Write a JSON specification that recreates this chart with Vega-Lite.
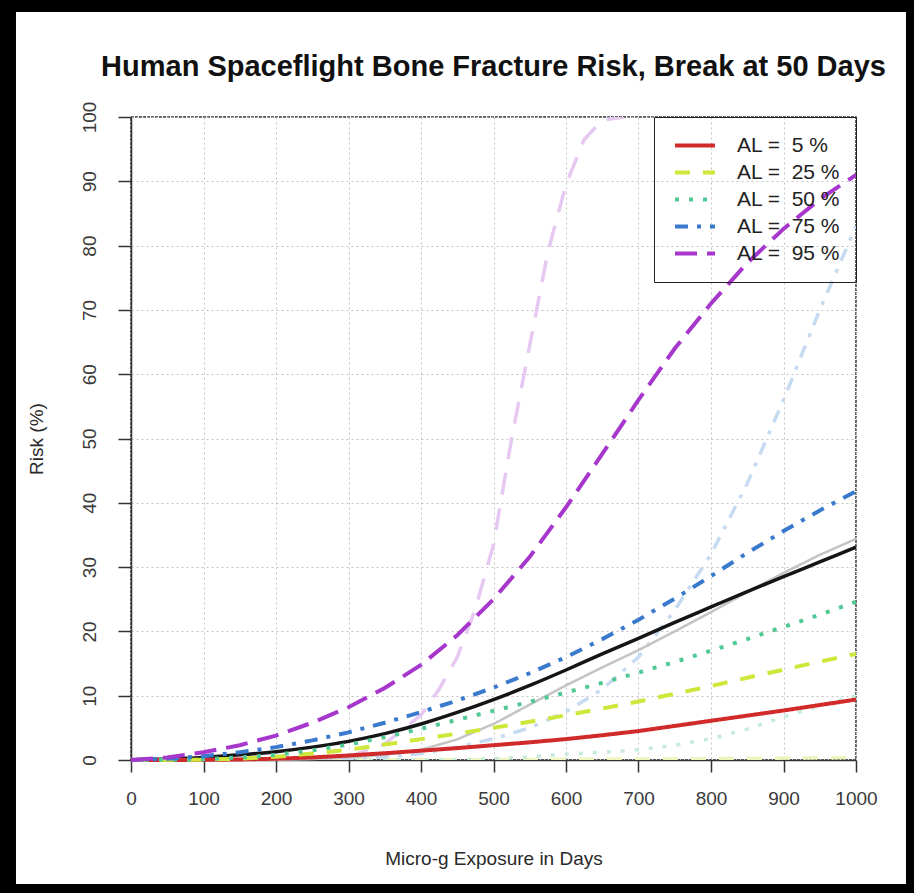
{
  "$schema": "https://vega.github.io/schema/vega-lite/v6.json",
  "width": 725,
  "height": 643,
  "autosize": {"type": "none"},
  "padding": {"left": 131, "top": 117, "right": 58, "bottom": 133},
  "background": "white",
  "title": {
    "text": "Human Spaceflight Bone Fracture Risk, Break at 50 Days",
    "font": "Liberation Sans",
    "fontSize": 29,
    "fontWeight": "bold",
    "color": "#111111",
    "anchor": "middle",
    "frame": "group",
    "baseline": "alphabetic",
    "offset": -117
  },
  "config": {
    "view": {"stroke": "#333333", "strokeWidth": 1.5, "strokeDash": [3, 1]},
    "font": "Liberation Sans",
    "axis": {
      "grid": true,
      "gridColor": "#C4C4C4",
      "gridDash": [2, 3],
      "gridWidth": 1,
      "domainColor": "#333333",
      "domainWidth": 1.5,
      "tickColor": "#333333",
      "tickWidth": 1.5,
      "labelColor": "#3A3A3A",
      "labelFont": "Liberation Sans",
      "labelFontSize": 19,
      "titleFont": "Liberation Sans",
      "titleFontSize": 19,
      "titleFontWeight": "normal",
      "titleColor": "#2A2A2A",
      "labelFlush": false,
      "format": "d"
    },
    "axisX": {"tickSize": 12, "labelPadding": 17, "titlePadding": 41},
    "axisY": {"tickSize": 13, "labelAngle": 270, "labelAlign": "center", "labelBaseline": "bottom", "labelPadding": 19, "titlePadding": 34},
    "legend": {"labelFont": "Liberation Sans"}
  },
  "datasets": {
    "curves": [
      {"day": 0, "risk": 0, "series": "AL = 5 %", "scenario": "break"},
      {"day": 100, "risk": 0.02, "series": "AL = 5 %", "scenario": "break"},
      {"day": 150, "risk": 0.08, "series": "AL = 5 %", "scenario": "break"},
      {"day": 200, "risk": 0.2, "series": "AL = 5 %", "scenario": "break"},
      {"day": 250, "risk": 0.4, "series": "AL = 5 %", "scenario": "break"},
      {"day": 300, "risk": 0.7, "series": "AL = 5 %", "scenario": "break"},
      {"day": 350, "risk": 1.05, "series": "AL = 5 %", "scenario": "break"},
      {"day": 400, "risk": 1.45, "series": "AL = 5 %", "scenario": "break"},
      {"day": 450, "risk": 1.85, "series": "AL = 5 %", "scenario": "break"},
      {"day": 500, "risk": 2.3, "series": "AL = 5 %", "scenario": "break"},
      {"day": 550, "risk": 2.75, "series": "AL = 5 %", "scenario": "break"},
      {"day": 600, "risk": 3.25, "series": "AL = 5 %", "scenario": "break"},
      {"day": 650, "risk": 3.85, "series": "AL = 5 %", "scenario": "break"},
      {"day": 700, "risk": 4.5, "series": "AL = 5 %", "scenario": "break"},
      {"day": 750, "risk": 5.3, "series": "AL = 5 %", "scenario": "break"},
      {"day": 800, "risk": 6.1, "series": "AL = 5 %", "scenario": "break"},
      {"day": 850, "risk": 6.9, "series": "AL = 5 %", "scenario": "break"},
      {"day": 900, "risk": 7.7, "series": "AL = 5 %", "scenario": "break"},
      {"day": 950, "risk": 8.55, "series": "AL = 5 %", "scenario": "break"},
      {"day": 1000, "risk": 9.4, "series": "AL = 5 %", "scenario": "break"},

      {"day": 0, "risk": 0, "series": "AL = 25 %", "scenario": "break"},
      {"day": 100, "risk": 0.05, "series": "AL = 25 %", "scenario": "break"},
      {"day": 150, "risk": 0.2, "series": "AL = 25 %", "scenario": "break"},
      {"day": 200, "risk": 0.5, "series": "AL = 25 %", "scenario": "break"},
      {"day": 250, "risk": 1.0, "series": "AL = 25 %", "scenario": "break"},
      {"day": 300, "risk": 1.6, "series": "AL = 25 %", "scenario": "break"},
      {"day": 350, "risk": 2.4, "series": "AL = 25 %", "scenario": "break"},
      {"day": 400, "risk": 3.25, "series": "AL = 25 %", "scenario": "break"},
      {"day": 450, "risk": 4.1, "series": "AL = 25 %", "scenario": "break"},
      {"day": 500, "risk": 5.0, "series": "AL = 25 %", "scenario": "break"},
      {"day": 550, "risk": 5.95, "series": "AL = 25 %", "scenario": "break"},
      {"day": 600, "risk": 6.95, "series": "AL = 25 %", "scenario": "break"},
      {"day": 650, "risk": 8.0, "series": "AL = 25 %", "scenario": "break"},
      {"day": 700, "risk": 9.1, "series": "AL = 25 %", "scenario": "break"},
      {"day": 750, "risk": 10.3, "series": "AL = 25 %", "scenario": "break"},
      {"day": 800, "risk": 11.5, "series": "AL = 25 %", "scenario": "break"},
      {"day": 850, "risk": 12.8, "series": "AL = 25 %", "scenario": "break"},
      {"day": 900, "risk": 14.05, "series": "AL = 25 %", "scenario": "break"},
      {"day": 950, "risk": 15.3, "series": "AL = 25 %", "scenario": "break"},
      {"day": 1000, "risk": 16.5, "series": "AL = 25 %", "scenario": "break"},

      {"day": 0, "risk": 0, "series": "AL = 50 %", "scenario": "break"},
      {"day": 100, "risk": 0.1, "series": "AL = 50 %", "scenario": "break"},
      {"day": 150, "risk": 0.4, "series": "AL = 50 %", "scenario": "break"},
      {"day": 200, "risk": 0.8, "series": "AL = 50 %", "scenario": "break"},
      {"day": 250, "risk": 1.5, "series": "AL = 50 %", "scenario": "break"},
      {"day": 300, "risk": 2.4, "series": "AL = 50 %", "scenario": "break"},
      {"day": 350, "risk": 3.55, "series": "AL = 50 %", "scenario": "break"},
      {"day": 400, "risk": 4.85, "series": "AL = 50 %", "scenario": "break"},
      {"day": 450, "risk": 6.25, "series": "AL = 50 %", "scenario": "break"},
      {"day": 500, "risk": 7.65, "series": "AL = 50 %", "scenario": "break"},
      {"day": 550, "risk": 9.05, "series": "AL = 50 %", "scenario": "break"},
      {"day": 600, "risk": 10.5, "series": "AL = 50 %", "scenario": "break"},
      {"day": 650, "risk": 12.0, "series": "AL = 50 %", "scenario": "break"},
      {"day": 700, "risk": 13.6, "series": "AL = 50 %", "scenario": "break"},
      {"day": 750, "risk": 15.25, "series": "AL = 50 %", "scenario": "break"},
      {"day": 800, "risk": 17.0, "series": "AL = 50 %", "scenario": "break"},
      {"day": 850, "risk": 18.8, "series": "AL = 50 %", "scenario": "break"},
      {"day": 900, "risk": 20.7, "series": "AL = 50 %", "scenario": "break"},
      {"day": 950, "risk": 22.6, "series": "AL = 50 %", "scenario": "break"},
      {"day": 1000, "risk": 24.6, "series": "AL = 50 %", "scenario": "break"},

      {"day": 0, "risk": 0, "series": "AL = 75 %", "scenario": "break"},
      {"day": 50, "risk": 0.2, "series": "AL = 75 %", "scenario": "break"},
      {"day": 100, "risk": 0.6, "series": "AL = 75 %", "scenario": "break"},
      {"day": 150, "risk": 1.2, "series": "AL = 75 %", "scenario": "break"},
      {"day": 200, "risk": 2.0, "series": "AL = 75 %", "scenario": "break"},
      {"day": 250, "risk": 3.05, "series": "AL = 75 %", "scenario": "break"},
      {"day": 300, "risk": 4.3, "series": "AL = 75 %", "scenario": "break"},
      {"day": 350, "risk": 5.8, "series": "AL = 75 %", "scenario": "break"},
      {"day": 400, "risk": 7.45, "series": "AL = 75 %", "scenario": "break"},
      {"day": 450, "risk": 9.25, "series": "AL = 75 %", "scenario": "break"},
      {"day": 500, "risk": 11.25, "series": "AL = 75 %", "scenario": "break"},
      {"day": 550, "risk": 13.5, "series": "AL = 75 %", "scenario": "break"},
      {"day": 600, "risk": 16.0, "series": "AL = 75 %", "scenario": "break"},
      {"day": 650, "risk": 18.8, "series": "AL = 75 %", "scenario": "break"},
      {"day": 700, "risk": 21.8, "series": "AL = 75 %", "scenario": "break"},
      {"day": 750, "risk": 25.1, "series": "AL = 75 %", "scenario": "break"},
      {"day": 800, "risk": 28.6, "series": "AL = 75 %", "scenario": "break"},
      {"day": 850, "risk": 32.2, "series": "AL = 75 %", "scenario": "break"},
      {"day": 900, "risk": 35.6, "series": "AL = 75 %", "scenario": "break"},
      {"day": 950, "risk": 38.8, "series": "AL = 75 %", "scenario": "break"},
      {"day": 1000, "risk": 41.8, "series": "AL = 75 %", "scenario": "break"},

      {"day": 0, "risk": 0, "series": "AL = 95 %", "scenario": "break"},
      {"day": 50, "risk": 0.4, "series": "AL = 95 %", "scenario": "break"},
      {"day": 100, "risk": 1.2, "series": "AL = 95 %", "scenario": "break"},
      {"day": 150, "risk": 2.3, "series": "AL = 95 %", "scenario": "break"},
      {"day": 200, "risk": 3.8, "series": "AL = 95 %", "scenario": "break"},
      {"day": 250, "risk": 5.8, "series": "AL = 95 %", "scenario": "break"},
      {"day": 300, "risk": 8.2, "series": "AL = 95 %", "scenario": "break"},
      {"day": 350, "risk": 11.2, "series": "AL = 95 %", "scenario": "break"},
      {"day": 400, "risk": 14.8, "series": "AL = 95 %", "scenario": "break"},
      {"day": 450, "risk": 19.4, "series": "AL = 95 %", "scenario": "break"},
      {"day": 500, "risk": 25.0, "series": "AL = 95 %", "scenario": "break"},
      {"day": 550, "risk": 31.6, "series": "AL = 95 %", "scenario": "break"},
      {"day": 600, "risk": 39.3, "series": "AL = 95 %", "scenario": "break"},
      {"day": 650, "risk": 47.6, "series": "AL = 95 %", "scenario": "break"},
      {"day": 700, "risk": 56.0, "series": "AL = 95 %", "scenario": "break"},
      {"day": 750, "risk": 64.0, "series": "AL = 95 %", "scenario": "break"},
      {"day": 800, "risk": 71.0, "series": "AL = 95 %", "scenario": "break"},
      {"day": 850, "risk": 77.3, "series": "AL = 95 %", "scenario": "break"},
      {"day": 900, "risk": 82.6, "series": "AL = 95 %", "scenario": "break"},
      {"day": 950, "risk": 87.2, "series": "AL = 95 %", "scenario": "break"},
      {"day": 1000, "risk": 91.0, "series": "AL = 95 %", "scenario": "break"},

      {"day": 0, "risk": 0, "series": "Overall", "scenario": "break"},
      {"day": 50, "risk": 0.15, "series": "Overall", "scenario": "break"},
      {"day": 100, "risk": 0.4, "series": "Overall", "scenario": "break"},
      {"day": 150, "risk": 0.8, "series": "Overall", "scenario": "break"},
      {"day": 200, "risk": 1.3, "series": "Overall", "scenario": "break"},
      {"day": 250, "risk": 2.0, "series": "Overall", "scenario": "break"},
      {"day": 300, "risk": 2.9, "series": "Overall", "scenario": "break"},
      {"day": 350, "risk": 4.1, "series": "Overall", "scenario": "break"},
      {"day": 400, "risk": 5.6, "series": "Overall", "scenario": "break"},
      {"day": 450, "risk": 7.4, "series": "Overall", "scenario": "break"},
      {"day": 500, "risk": 9.4, "series": "Overall", "scenario": "break"},
      {"day": 550, "risk": 11.6, "series": "Overall", "scenario": "break"},
      {"day": 600, "risk": 14.0, "series": "Overall", "scenario": "break"},
      {"day": 650, "risk": 16.5, "series": "Overall", "scenario": "break"},
      {"day": 700, "risk": 18.9, "series": "Overall", "scenario": "break"},
      {"day": 750, "risk": 21.4, "series": "Overall", "scenario": "break"},
      {"day": 800, "risk": 23.8, "series": "Overall", "scenario": "break"},
      {"day": 850, "risk": 26.2, "series": "Overall", "scenario": "break"},
      {"day": 900, "risk": 28.5, "series": "Overall", "scenario": "break"},
      {"day": 950, "risk": 30.8, "series": "Overall", "scenario": "break"},
      {"day": 1000, "risk": 33.1, "series": "Overall", "scenario": "break"},

      {"day": 0, "risk": 0, "series": "Overall", "scenario": "no break"},
      {"day": 200, "risk": 0.05, "series": "Overall", "scenario": "no break"},
      {"day": 250, "risk": 0.15, "series": "Overall", "scenario": "no break"},
      {"day": 300, "risk": 0.4, "series": "Overall", "scenario": "no break"},
      {"day": 350, "risk": 0.8, "series": "Overall", "scenario": "no break"},
      {"day": 400, "risk": 1.6, "series": "Overall", "scenario": "no break"},
      {"day": 450, "risk": 3.2, "series": "Overall", "scenario": "no break"},
      {"day": 500, "risk": 5.6, "series": "Overall", "scenario": "no break"},
      {"day": 550, "risk": 8.6, "series": "Overall", "scenario": "no break"},
      {"day": 600, "risk": 11.6, "series": "Overall", "scenario": "no break"},
      {"day": 650, "risk": 14.4, "series": "Overall", "scenario": "no break"},
      {"day": 700, "risk": 17.1, "series": "Overall", "scenario": "no break"},
      {"day": 750, "risk": 20.0, "series": "Overall", "scenario": "no break"},
      {"day": 800, "risk": 23.0, "series": "Overall", "scenario": "no break"},
      {"day": 850, "risk": 26.1, "series": "Overall", "scenario": "no break"},
      {"day": 900, "risk": 29.1, "series": "Overall", "scenario": "no break"},
      {"day": 950, "risk": 31.9, "series": "Overall", "scenario": "no break"},
      {"day": 1000, "risk": 34.4, "series": "Overall", "scenario": "no break"},

      {"day": 0, "risk": 0, "series": "AL = 25 %", "scenario": "no break"},
      {"day": 500, "risk": 0.05, "series": "AL = 25 %", "scenario": "no break"},
      {"day": 700, "risk": 0.15, "series": "AL = 25 %", "scenario": "no break"},
      {"day": 850, "risk": 0.25, "series": "AL = 25 %", "scenario": "no break"},
      {"day": 1000, "risk": 0.4, "series": "AL = 25 %", "scenario": "no break"},

      {"day": 0, "risk": 0, "series": "AL = 50 %", "scenario": "no break"},
      {"day": 450, "risk": 0.05, "series": "AL = 50 %", "scenario": "no break"},
      {"day": 500, "risk": 0.2, "series": "AL = 50 %", "scenario": "no break"},
      {"day": 550, "risk": 0.5, "series": "AL = 50 %", "scenario": "no break"},
      {"day": 600, "risk": 0.9, "series": "AL = 50 %", "scenario": "no break"},
      {"day": 650, "risk": 1.2, "series": "AL = 50 %", "scenario": "no break"},
      {"day": 700, "risk": 1.6, "series": "AL = 50 %", "scenario": "no break"},
      {"day": 750, "risk": 2.3, "series": "AL = 50 %", "scenario": "no break"},
      {"day": 800, "risk": 3.3, "series": "AL = 50 %", "scenario": "no break"},
      {"day": 850, "risk": 4.8, "series": "AL = 50 %", "scenario": "no break"},
      {"day": 900, "risk": 6.7, "series": "AL = 50 %", "scenario": "no break"},
      {"day": 950, "risk": 8.4, "series": "AL = 50 %", "scenario": "no break"},
      {"day": 1000, "risk": 10.0, "series": "AL = 50 %", "scenario": "no break"},

      {"day": 0, "risk": 0, "series": "AL = 75 %", "scenario": "no break"},
      {"day": 300, "risk": 0.2, "series": "AL = 75 %", "scenario": "no break"},
      {"day": 350, "risk": 0.5, "series": "AL = 75 %", "scenario": "no break"},
      {"day": 400, "risk": 1.0, "series": "AL = 75 %", "scenario": "no break"},
      {"day": 450, "risk": 2.0, "series": "AL = 75 %", "scenario": "no break"},
      {"day": 500, "risk": 3.3, "series": "AL = 75 %", "scenario": "no break"},
      {"day": 550, "risk": 5.0, "series": "AL = 75 %", "scenario": "no break"},
      {"day": 600, "risk": 7.5, "series": "AL = 75 %", "scenario": "no break"},
      {"day": 650, "risk": 11.0, "series": "AL = 75 %", "scenario": "no break"},
      {"day": 700, "risk": 16.0, "series": "AL = 75 %", "scenario": "no break"},
      {"day": 750, "risk": 23.3, "series": "AL = 75 %", "scenario": "no break"},
      {"day": 800, "risk": 32.0, "series": "AL = 75 %", "scenario": "no break"},
      {"day": 850, "risk": 43.0, "series": "AL = 75 %", "scenario": "no break"},
      {"day": 900, "risk": 56.0, "series": "AL = 75 %", "scenario": "no break"},
      {"day": 950, "risk": 70.0, "series": "AL = 75 %", "scenario": "no break"},
      {"day": 1000, "risk": 83.0, "series": "AL = 75 %", "scenario": "no break"},

      {"day": 0, "risk": 0, "series": "AL = 95 %", "scenario": "no break"},
      {"day": 250, "risk": 0.1, "series": "AL = 95 %", "scenario": "no break"},
      {"day": 300, "risk": 0.5, "series": "AL = 95 %", "scenario": "no break"},
      {"day": 350, "risk": 2.5, "series": "AL = 95 %", "scenario": "no break"},
      {"day": 400, "risk": 7.0, "series": "AL = 95 %", "scenario": "no break"},
      {"day": 425, "risk": 11.0, "series": "AL = 95 %", "scenario": "no break"},
      {"day": 450, "risk": 16.0, "series": "AL = 95 %", "scenario": "no break"},
      {"day": 475, "risk": 23.5, "series": "AL = 95 %", "scenario": "no break"},
      {"day": 500, "risk": 33.5, "series": "AL = 95 %", "scenario": "no break"},
      {"day": 525, "risk": 50.0, "series": "AL = 95 %", "scenario": "no break"},
      {"day": 550, "risk": 64.5, "series": "AL = 95 %", "scenario": "no break"},
      {"day": 575, "risk": 79.0, "series": "AL = 95 %", "scenario": "no break"},
      {"day": 600, "risk": 89.5, "series": "AL = 95 %", "scenario": "no break"},
      {"day": 625, "risk": 96.5, "series": "AL = 95 %", "scenario": "no break"},
      {"day": 650, "risk": 99.5, "series": "AL = 95 %", "scenario": "no break"},
      {"day": 680, "risk": 100, "series": "AL = 95 %", "scenario": "no break"}
    ]
  },
  "layer": [
    {
      "data": {"values": [{"frame": "page"}]},
      "mark": {"type": "rect", "filled": false, "stroke": "black", "strokeWidth": 24, "clip": false},
      "encoding": {
        "x": {"datum": -175.2, "type": "quantitative", "scale": {"domain": [0, 1000], "nice": false},
          "axis": {"values": [0, 100, 200, 300, 400, 500, 600, 700, 800, 900, 1000], "title": "Micro-g Exposure in Days"}},
        "x2": {"datum": 1085.5},
        "y": {"datum": -21.15, "type": "quantitative", "scale": {"domain": [0, 100], "nice": false},
          "axis": {"values": [0, 10, 20, 30, 40, 50, 60, 70, 80, 90, 100], "title": "Risk (%)"}},
        "y2": {"datum": 118.2}
      }
    },
    {
      "data": {"name": "curves"},
      "transform": [{"filter": "datum.scenario == 'no break' && datum.series != 'Overall'"}],
      "mark": {"type": "line", "strokeWidth": 3.5, "clip": true},
      "encoding": {
        "x": {"field": "day", "type": "quantitative", "scale": {"domain": [0, 1000], "nice": false},
          "axis": {"values": [0, 100, 200, 300, 400, 500, 600, 700, 800, 900, 1000], "title": "Micro-g Exposure in Days"}},
        "y": {"field": "risk", "type": "quantitative", "scale": {"domain": [0, 100], "nice": false},
          "axis": {"values": [0, 10, 20, 30, 40, 50, 60, 70, 80, 90, 100], "title": "Risk (%)"}},
        "color": {"field": "series", "type": "nominal", "legend": null,
          "scale": {"domain": ["AL = 5 %", "AL = 25 %", "AL = 50 %", "AL = 75 %", "AL = 95 %"], "range": ["#F3CFCF", "#EEF4BE", "#C6EBDA", "#C6DAF1", "#E6C8F1"]}},
        "strokeDash": {"field": "series", "type": "nominal", "legend": null,
          "scale": {"domain": ["AL = 5 %", "AL = 25 %", "AL = 50 %", "AL = 75 %", "AL = 95 %"], "range": [[1, 0], [15, 13], [4, 10], [13, 9, 4, 9], [22, 14]]}}
      }
    },
    {
      "data": {"name": "curves"},
      "transform": [{"filter": "datum.scenario == 'no break' && datum.series == 'Overall'"}],
      "mark": {"type": "line", "strokeWidth": 2.5, "color": "#C4C4C4"},
      "encoding": {
        "x": {"field": "day", "type": "quantitative", "scale": {"domain": [0, 1000], "nice": false},
          "axis": {"values": [0, 100, 200, 300, 400, 500, 600, 700, 800, 900, 1000], "title": "Micro-g Exposure in Days"}},
        "y": {"field": "risk", "type": "quantitative", "scale": {"domain": [0, 100], "nice": false},
          "axis": {"values": [0, 10, 20, 30, 40, 50, 60, 70, 80, 90, 100], "title": "Risk (%)"}}
      }
    },
    {
      "data": {"name": "curves"},
      "transform": [{"filter": "datum.scenario == 'break' && datum.series == 'Overall'"}],
      "mark": {"type": "line", "strokeWidth": 3.5, "color": "#151515", "interpolate": "monotone"},
      "encoding": {
        "x": {"field": "day", "type": "quantitative", "scale": {"domain": [0, 1000], "nice": false},
          "axis": {"values": [0, 100, 200, 300, 400, 500, 600, 700, 800, 900, 1000], "title": "Micro-g Exposure in Days"}},
        "y": {"field": "risk", "type": "quantitative", "scale": {"domain": [0, 100], "nice": false},
          "axis": {"values": [0, 10, 20, 30, 40, 50, 60, 70, 80, 90, 100], "title": "Risk (%)"}}
      }
    },
    {
      "data": {"name": "curves"},
      "transform": [{"filter": "datum.scenario == 'break' && datum.series != 'Overall'"}],
      "mark": {"type": "line", "strokeWidth": 4},
      "encoding": {
        "x": {"field": "day", "type": "quantitative", "scale": {"domain": [0, 1000], "nice": false},
          "axis": {"values": [0, 100, 200, 300, 400, 500, 600, 700, 800, 900, 1000], "title": "Micro-g Exposure in Days"}},
        "y": {"field": "risk", "type": "quantitative", "scale": {"domain": [0, 100], "nice": false},
          "axis": {"values": [0, 10, 20, 30, 40, 50, 60, 70, 80, 90, 100], "title": "Risk (%)"}},
        "color": {"field": "series", "type": "nominal", "sort": null,
          "scale": {"domain": ["AL = 5 %", "AL = 25 %", "AL = 50 %", "AL = 75 %", "AL = 95 %"], "range": ["#D12A2A", "#CFE63A", "#52C994", "#3A7ACC", "#A636CC"]},
          "legend": {"title": null, "orient": "top-right", "offset": 0, "padding": 15, "strokeColor": "#222222",
            "symbolType": "stroke", "symbolSize": 1600, "symbolStrokeWidth": 4, "symbolOffset": 4, "clipHeight": 27, "rowPadding": 0,
            "labelFontSize": 21, "labelColor": "#222222", "labelOffset": 20, "labelLimit": 300,
            "labelExpr": "replace(datum.label, '= ', '= \u00a0')"}},
        "strokeDash": {"field": "series", "type": "nominal", "sort": null,
          "scale": {"domain": ["AL = 5 %", "AL = 25 %", "AL = 50 %", "AL = 75 %", "AL = 95 %"], "range": [[1, 0], [15, 13], [4, 10], [13, 9, 4, 9], [22, 10]]},
          "legend": {"title": null, "orient": "top-right", "offset": 0, "padding": 15, "strokeColor": "#222222",
            "symbolType": "stroke", "symbolSize": 1600, "symbolStrokeWidth": 4, "symbolOffset": 4, "clipHeight": 27, "rowPadding": 0,
            "labelFontSize": 21, "labelColor": "#222222", "labelOffset": 20, "labelLimit": 300,
            "labelExpr": "replace(datum.label, '= ', '= \u00a0')"}}
      }
    }
  ],
  "resolve": {"scale": {"color": "independent", "strokeDash": "independent"}}
}
